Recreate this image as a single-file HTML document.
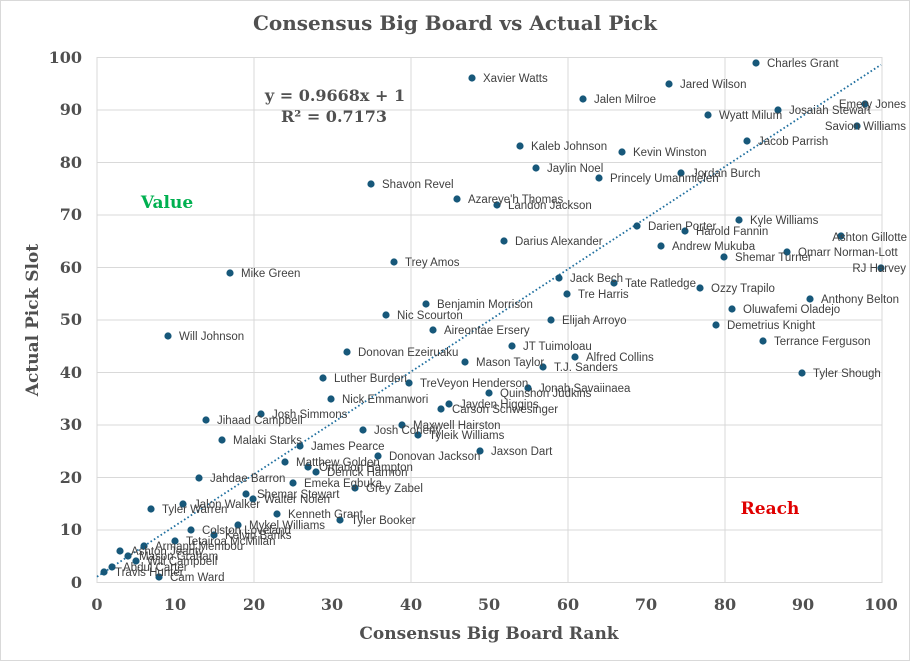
<!DOCTYPE html>
<html><head><meta charset="utf-8"><style>
body{margin:0;background:#fff}
svg{display:block}
.l{font-family:"Liberation Sans",sans-serif;font-size:11.5px;fill:#404040}
.t{font-family:"DejaVu Serif","Liberation Serif",serif;font-weight:bold;fill:#505050}
</style></head><body>
<svg width="910" height="661" viewBox="0 0 910 661" xmlns="http://www.w3.org/2000/svg">
<rect x="0.5" y="0.5" width="909" height="660" fill="#fff" stroke="#d9d9d9"/>
<g stroke="#d9d9d9" stroke-width="1">
<line x1="97" y1="57.5" x2="882" y2="57.5"/><line x1="97" y1="110" x2="882" y2="110"/><line x1="97" y1="162.5" x2="882" y2="162.5"/><line x1="97" y1="215" x2="882" y2="215"/><line x1="97" y1="267.5" x2="882" y2="267.5"/><line x1="97" y1="320" x2="882" y2="320"/><line x1="97" y1="372.5" x2="882" y2="372.5"/><line x1="97" y1="425" x2="882" y2="425"/><line x1="97" y1="477.5" x2="882" y2="477.5"/><line x1="97" y1="530" x2="882" y2="530"/><line x1="97" y1="582.5" x2="882" y2="582.5"/>
<line x1="97" y1="57" x2="97" y2="583"/><line x1="254" y1="57" x2="254" y2="583"/><line x1="411" y1="57" x2="411" y2="583"/><line x1="568" y1="57" x2="568" y2="583"/><line x1="725" y1="57" x2="725" y2="583"/><line x1="882" y1="57" x2="882" y2="583"/>
</g>
<text class="t" x="455" y="30" font-size="20" text-anchor="middle">Consensus Big Board vs Actual Pick</text>
<g class="t" font-size="16" text-anchor="end">
<text x="82" y="63">100</text><text x="82" y="115">90</text><text x="82" y="168">80</text><text x="82" y="220">70</text><text x="82" y="273">60</text><text x="82" y="325">50</text><text x="82" y="378">40</text><text x="82" y="430">30</text><text x="82" y="483">20</text><text x="82" y="535">10</text><text x="82" y="588">0</text>
</g>
<g class="t" font-size="16" text-anchor="middle">
<text x="97" y="610">0</text><text x="175" y="610">10</text><text x="254" y="610">20</text><text x="332" y="610">30</text><text x="411" y="610">40</text><text x="489" y="610">50</text><text x="568" y="610">60</text><text x="646" y="610">70</text><text x="725" y="610">80</text><text x="803" y="610">90</text><text x="881" y="610">100</text>
</g>
<text class="t" x="489" y="639" font-size="17" text-anchor="middle">Consensus Big Board Rank</text>
<text class="t" font-size="17" text-anchor="middle" transform="translate(38,320) rotate(-90)">Actual Pick Slot</text>
<text class="t" x="335" y="101" font-size="16" text-anchor="middle">y = 0.9668x + 1</text>
<text class="t" x="334" y="122" font-size="16" text-anchor="middle">R² = 0.7173</text>
<text class="t" x="167" y="208" font-size="17" text-anchor="middle" style="fill:#00b050">Value</text>
<text class="t" x="770" y="514" font-size="17" text-anchor="middle" style="fill:#e00000">Reach</text>
<line x1="97" y1="576.8" x2="881" y2="64.7" stroke="#1f6f9f" stroke-width="1.8" stroke-dasharray="1.6 2.4"/>
<g fill="#17587a" id="d"></g>
<g id="lb"></g>
<script>
var P=[[756,63,"Charles Grant"],[472,78,"Xavier Watts"],[669,84,"Jared Wilson"],[865,104,"Emery Jones",1],[583,99,"Jalen Milroe"],[778,110,"Josaiah Stewart"],[708,115,"Wyatt Milum"],[857,126,"Savion Williams",1],[747,141,"Jacob Parrish"],[520,146,"Kaleb Johnson"],[622,152,"Kevin Winston"],[536,168,"Jaylin Noel"],[681,173,"Jordan Burch"],[599,178,"Princely Umanmielen"],[371,184,"Shavon Revel"],[457,199,"Azareye'h Thomas"],[497,205,"Landon Jackson"],[739,220,"Kyle Williams"],[637,226,"Darien Porter"],[685,231,"Harold Fannin"],[841,236,"Ashton Gillotte",2],[504,241,"Darius Alexander"],[661,246,"Andrew Mukuba"],[787,252,"Omarr Norman-Lott"],[724,257,"Shemar Turner"],[394,262,"Trey Amos"],[881,268,"RJ Harvey",1],[230,273,"Mike Green"],[559,278,"Jack Bech"],[614,283,"Tate Ratledge"],[700,288,"Ozzy Trapilo"],[567,294,"Tre Harris"],[810,299,"Anthony Belton"],[426,304,"Benjamin Morrison"],[732,309,"Oluwafemi Oladejo"],[386,315,"Nic Scourton"],[551,320,"Elijah Arroyo"],[716,325,"Demetrius Knight"],[433,330,"Aireontae Ersery"],[168,336,"Will Johnson"],[763,341,"Terrance Ferguson"],[512,346,"JT Tuimoloau"],[347,352,"Donovan Ezeiruaku"],[575,357,"Alfred Collins"],[465,362,"Mason Taylor"],[543,367,"T.J. Sanders"],[802,373,"Tyler Shough"],[323,378,"Luther Burden"],[409,383,"TreVeyon Henderson"],[528,388,"Jonah Savaiinaea"],[489,393,"Quinshon Judkins"],[331,399,"Nick Emmanwori"],[449,404,"Jayden Higgins"],[441,409,"Carson Schwesinger"],[261,414,"Josh Simmons"],[206,420,"Jihaad Campbell"],[402,425,"Maxwell Hairston"],[363,430,"Josh Conerly"],[418,435,"Tyleik Williams"],[222,440,"Malaki Starks"],[300,446,"James Pearce"],[480,451,"Jaxson Dart"],[378,456,"Donovan Jackson"],[285,462,"Matthew Golden"],[308,467,"Omarion Hampton"],[316,472,"Derrick Harmon"],[199,478,"Jahdae Barron"],[293,483,"Emeka Egbuka"],[355,488,"Grey Zabel"],[246,494,"Shemar Stewart"],[253,499,"Walter Nolen"],[183,504,"Jalon Walker"],[151,509,"Tyler Warren"],[277,514,"Kenneth Grant"],[340,520,"Tyler Booker"],[238,525,"Mykel Williams"],[191,530,"Colston Loveland"],[214,535,"Kelvin Banks"],[175,541,"Tetairoa McMillan"],[144,546,"Armand Membou"],[120,551,"Ashton Jeanty"],[128,556,"Mason Graham"],[136,561,"Will Campbell"],[112,567,"Abdul Carter"],[104,572,"Travis Hunter"],[159,577,"Cam Ward"]];
var ns="http://www.w3.org/2000/svg",d=document.getElementById("d"),lb=document.getElementById("lb");
P.forEach(function(p){var c=document.createElementNS(ns,"circle");c.setAttribute("cx",p[0]);c.setAttribute("cy",p[1]);c.setAttribute("r",3.6);d.appendChild(c);
var t=document.createElementNS(ns,"text");t.setAttribute("class","l");t.setAttribute("y",p[1]+4);
if(p[3]==1){t.setAttribute("x",906);t.setAttribute("text-anchor","end");}else if(p[3]==2){t.setAttribute("x",907);t.setAttribute("text-anchor","end");t.setAttribute("y",p[1]+5);}else{t.setAttribute("x",p[0]+11);}
t.textContent=p[2];lb.appendChild(t);});
</script>
</svg>
</body></html>
